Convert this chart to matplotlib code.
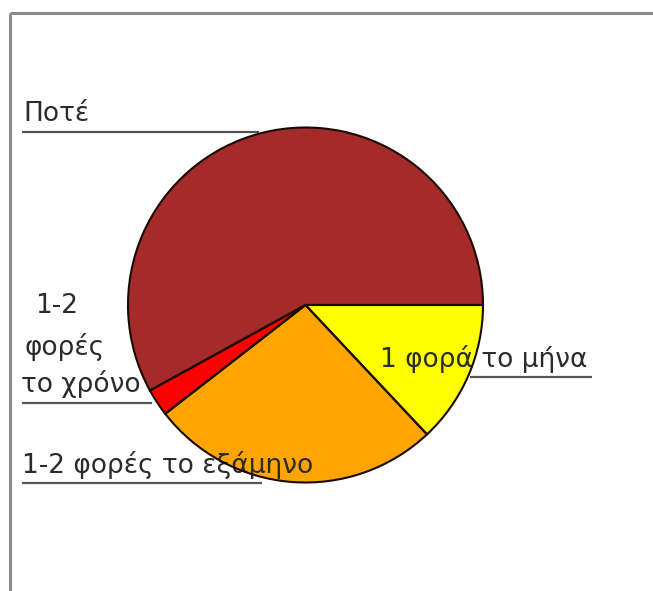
import matplotlib
matplotlib.use("Agg")
import matplotlib.pyplot as plt

# Survey answers (share of respondents, %)
categories = ["1 φορά το μήνα", "1-2 φορές το εξάμηνο", "1-2 φορές το χρόνο", "Ποτέ"]
values = [13.0, 26.5, 2.5, 58.0]
colors = ["#FFFF00", "#FFA500", "#FF0000", "#A52A2A"]

W, H = 653, 591
fig = plt.figure(figsize=(W / 100, H / 100), dpi=100)
ax = fig.add_axes([0, 0, 1, 1])


def Y(py):
    # pixel row measured from the top -> data y
    return H - py


cx, cy, r = 305.5, Y(305), 177.5

# slices (fill), then outlines on top of the labels
ax.pie(values, colors=colors, startangle=0, counterclock=False,
       center=(cx, cy), radius=r, frame=True,
       wedgeprops=dict(linewidth=0, zorder=2))
ax.pie(values, colors=["none"] * len(values), startangle=0, counterclock=False,
       center=(cx, cy), radius=r, frame=True,
       wedgeprops=dict(linewidth=1.5, edgecolor="#1a0a00", zorder=4))
ax.set_xlim(0, W)
ax.set_ylim(0, H)
ax.set_aspect("equal")
ax.axis("off")

# outer frame (top and left edges)
ax.plot([10, W], [Y(13), Y(13)], color="#8a8a8a", lw=2.2, solid_capstyle="butt", zorder=5)
ax.plot([10, 10], [Y(13), 0], color="#8a8a8a", lw=2.2, solid_capstyle="butt", zorder=5)

txt = dict(fontsize=19, color="#2b2b2b", family="DejaVu Sans", va="baseline", ha="left")
line = dict(color="#555555", lw=1.6, solid_capstyle="butt", zorder=1)

# Ποτέ
ax.text(23, Y(121), categories[3], zorder=3, **txt)
ax.plot([22, 259], [Y(132), Y(132)], **line)

# 1-2 φορές το χρόνο (wrapped over three lines)
ax.text(35, Y(313), "1-2", zorder=1, **txt)
ax.text(25, Y(355), "φορές", zorder=1, **txt)
ax.text(21, Y(392), "το χρόνο", zorder=1, **txt)
ax.plot([22, 152], [Y(403), Y(403)], **line)

# 1-2 φορές το εξάμηνο
ax.text(22, Y(473), categories[1], zorder=3, **txt)
ax.plot([22, 262], [Y(483), Y(483)], **line)

# 1 φορά το μήνα
ax.text(380, Y(367), categories[0], zorder=3, **txt)
ax.plot([470, 592], [Y(377), Y(377)], **line)

fig.savefig("out.png", dpi=100, facecolor="white")
